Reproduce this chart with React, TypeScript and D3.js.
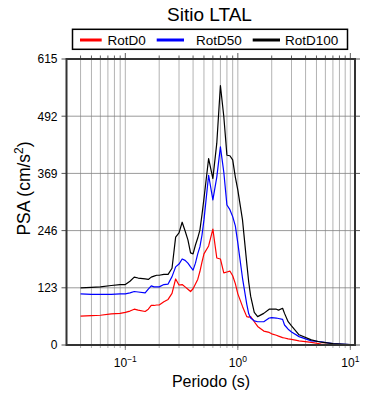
import * as d3 from "d3";
import { useEffect, useRef } from "react";

// Periods (s) and spectral accelerations (cm/s^2)
const periods = [
  0.04, 0.05, 0.06, 0.075, 0.09, 0.1, 0.11, 0.12, 0.13, 0.15, 0.16, 0.17,
  0.18, 0.19, 0.2, 0.22, 0.24, 0.26, 0.28, 0.3, 0.32, 0.34, 0.36, 0.38, 0.4,
  0.42, 0.44, 0.46, 0.48, 0.5, 0.55, 0.6, 0.65, 0.7, 0.75, 0.8, 0.85, 0.9,
  0.95, 1.0, 1.1, 1.2, 1.25, 1.3, 1.4, 1.5, 1.7, 1.9, 2.0, 2.2, 2.3, 2.5, 2.6,
  2.8, 3.0, 3.5, 4.5, 5.5, 7.0, 10,
];

const rotD0 = [
  62, 63, 64, 67, 68, 70, 73, 77, 75, 72, 77, 85, 85, 86, 86, 93, 98, 111,
  142, 129, 130, 125, 120, 115, 121, 131, 141, 158, 178, 196, 213, 249, 187,
  185, 155, 157, 159, 149, 132, 110, 83, 61, 60, 61, 50, 40, 30, 27, 24, 21,
  19, 16, 15, 13, 12, 9, 5.6, 2.2, 1.1, 0.4,
];

const rotD50 = [
  110, 109, 109, 109, 110, 110, 112, 115, 114, 112, 120, 127, 125, 125, 125,
  130, 131, 147, 168, 174, 185, 182, 176, 168, 161, 176, 196, 211, 236, 269,
  365, 312, 361, 426, 372, 301, 291, 276, 256, 219, 144, 88, 67, 58, 52, 50,
  50, 58, 59, 58, 57, 55, 43, 34, 28, 18, 9, 7, 3, 0.6,
];

const rotD100 = [
  123, 124, 125, 128, 130, 130, 137, 146, 144, 142, 141, 146, 148, 150, 150,
  152, 152, 165, 232, 241, 264, 245, 226, 198, 196, 215, 230, 247, 280, 315,
  401, 358, 434, 558, 492, 408, 407, 398, 361, 333, 269, 176, 135, 105, 70,
  61, 68, 77, 77, 77, 75, 79, 68, 50, 41, 22, 11, 6, 3, 0.6,
];

const yTicks = [0, 123, 246, 369, 492, 615];
const xMajorTicks = [0.1, 1, 10];
const xMajorExponents = ["\u22121", "0", "1"];

const seriesNames = ["RotD0", "RotD50", "RotD100"];
const seriesColors = ["#ff0000", "#0000ff", "#000000"];

const FONT = "'Liberation Sans', Arial, Helvetica, sans-serif";

function App() {
  const ref = useRef<SVGSVGElement>(null);

  useEffect(() => {
    const svg = d3.select(ref.current);
    svg.selectAll("*").remove();

    // plot frame
    const left = 66.5;
    const right = 355;
    const top = 59;
    const bottom = 345;

    const xScale = d3.scaleLog().domain([0.03, 11]).range([left, right]);
    const yScale = d3.scaleLinear().domain([0, 615]).range([bottom, top]);

    const allTicks = xScale.ticks().filter((t) => t > 0.031 && t < 10.9);
    const isMajor = (t: number) =>
      xMajorTicks.some((m) => Math.abs(t - m) / m < 1e-6);

    svg
      .append("rect")
      .attr("width", 390)
      .attr("height", 400)
      .attr("fill", "#fff");

    // vertical grid
    svg
      .append("g")
      .selectAll("line")
      .data(allTicks)
      .enter()
      .append("line")
      .attr("x1", (d) => xScale(d))
      .attr("x2", (d) => xScale(d))
      .attr("y1", top)
      .attr("y2", bottom + 3)
      .attr("stroke", "#a0a0a0")
      .attr("stroke-width", 0.8);

    // horizontal grid
    svg
      .append("g")
      .selectAll("line")
      .data(yTicks.slice(1, -1))
      .enter()
      .append("line")
      .attr("x1", left)
      .attr("x2", right)
      .attr("y1", (d) => yScale(d))
      .attr("y2", (d) => yScale(d))
      .attr("stroke", "#808080")
      .attr("stroke-width", 0.8);

    // top ticks
    svg
      .append("g")
      .selectAll("line")
      .data(allTicks)
      .enter()
      .append("line")
      .attr("x1", (d) => xScale(d))
      .attr("x2", (d) => xScale(d))
      .attr("y1", top)
      .attr("y2", (d) => top - (isMajor(d) ? 6 : 3.5))
      .attr("stroke", "#333")
      .attr("stroke-width", 0.8);

    // bottom major ticks
    svg
      .append("g")
      .selectAll("line")
      .data(xMajorTicks)
      .enter()
      .append("line")
      .attr("x1", (d) => xScale(d))
      .attr("x2", (d) => xScale(d))
      .attr("y1", bottom)
      .attr("y2", bottom + 5)
      .attr("stroke", "#666")
      .attr("stroke-width", 0.8);

    // y ticks left and right
    [left, right].forEach((x0, i) => {
      svg
        .append("g")
        .selectAll("line")
        .data(yTicks)
        .enter()
        .append("line")
        .attr("x1", x0)
        .attr("x2", i === 0 ? x0 - 5 : x0 + 5)
        .attr("y1", (d) => yScale(d))
        .attr("y2", (d) => yScale(d))
        .attr("stroke", "#555")
        .attr("stroke-width", 1);
    });

    // curves
    const line = d3
      .line<number>()
      .x((d, i) => xScale(periods[i]))
      .y((d) => yScale(d))
      .curve(d3.curveLinear);

    [rotD0, rotD50, rotD100].forEach((values, i) => {
      svg
        .append("path")
        .datum(values)
        .attr("fill", "none")
        .attr("stroke", seriesColors[i])
        .attr("stroke-width", 1.2)
        .attr("stroke-linejoin", "round")
        .attr("d", line);
    });

    // frame
    svg
      .append("rect")
      .attr("x", left)
      .attr("y", top)
      .attr("width", right - left)
      .attr("height", bottom - top)
      .attr("fill", "none")
      .attr("stroke", "#333")
      .attr("stroke-width", 2);

    // y tick labels
    svg
      .append("g")
      .selectAll("text")
      .data(yTicks)
      .enter()
      .append("text")
      .attr("x", left - 9)
      .attr("y", (d) => yScale(d) + 4.3)
      .attr("text-anchor", "end")
      .attr("font-family", FONT)
      .attr("font-size", 12)
      .attr("fill", "#000")
      .text((d) => d);

    // x tick labels, 10 with exponents
    const xLabels = svg
      .append("g")
      .selectAll("text")
      .data(xMajorTicks)
      .enter()
      .append("text")
      .attr("x", (d) => xScale(d))
      .attr("y", 367)
      .attr("text-anchor", "middle")
      .attr("font-family", FONT)
      .attr("font-size", 12)
      .attr("fill", "#000");
    xLabels.append("tspan").text("10");
    xLabels
      .append("tspan")
      .attr("dy", -5)
      .attr("font-size", 8.5)
      .text((d, i) => xMajorExponents[i]);

    // axis titles
    svg
      .append("text")
      .attr("x", 211)
      .attr("y", 387)
      .attr("text-anchor", "middle")
      .attr("font-family", FONT)
      .attr("font-size", 16)
      .text("Periodo (s)");

    const yTitle = svg
      .append("text")
      .attr("transform", "translate(29.5,188.5) rotate(-90)")
      .attr("text-anchor", "middle")
      .attr("font-family", FONT)
      .attr("font-size", 17.5);
    yTitle.append("tspan").text("PSA (cm/s");
    yTitle.append("tspan").attr("dy", -7).attr("font-size", 12).text("2");
    yTitle.append("tspan").attr("dy", 7).text(")");

    // title
    svg
      .append("text")
      .attr("x", 209.5)
      .attr("y", 20.5)
      .attr("text-anchor", "middle")
      .attr("font-family", FONT)
      .attr("font-size", 19)
      .text("Sitio LTAL");

    // legend
    svg
      .append("rect")
      .attr("x", 72.5)
      .attr("y", 29.3)
      .attr("width", 275)
      .attr("height", 20)
      .attr("fill", "#fff")
      .attr("stroke", "#000")
      .attr("stroke-width", 1.5);

    const legendLines = [
      [80, 101.7],
      [156.7, 184],
      [252.7, 280],
    ];
    const legendText = [107.5, 196, 285];
    seriesNames.forEach((name, i) => {
      svg
        .append("line")
        .attr("x1", legendLines[i][0])
        .attr("x2", legendLines[i][1])
        .attr("y1", 40)
        .attr("y2", 40)
        .attr("stroke", seriesColors[i])
        .attr("stroke-width", 3);
      svg
        .append("text")
        .attr("x", legendText[i])
        .attr("y", 44.5)
        .attr("font-family", FONT)
        .attr("font-size", 13.5)
        .text(name);
    });
  }, []);

  return (
    <div style={{ position: "absolute", left: 0, top: 0 }}>
      <svg ref={ref} width={390} height={400} style={{ display: "block" }} />
    </div>
  );
}

export default App;
